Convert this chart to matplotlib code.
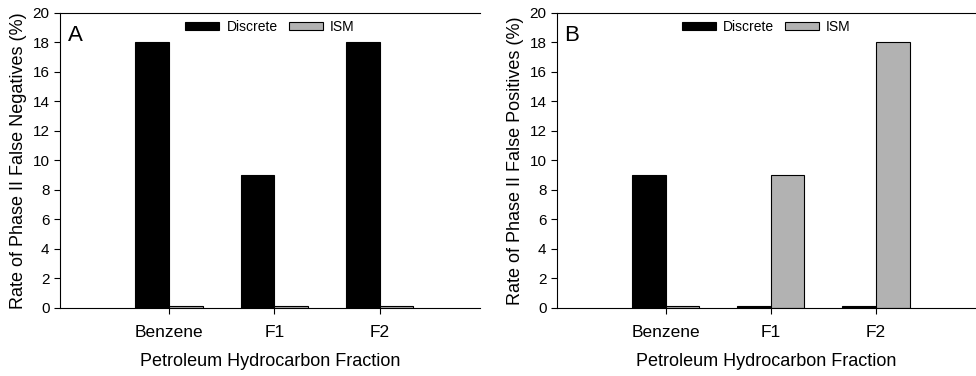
import matplotlib
matplotlib.use("Agg")
import matplotlib.pyplot as plt
import numpy as np

plt.rcParams['font.family'] = ['Liberation Sans', 'DejaVu Sans']

categories = ["Benzene", "F1", "F2"]
neg_discrete = [18, 9, 18]
neg_ism = [0.1, 0.1, 0.1]
pos_discrete = [9, 0.15, 0.15]
pos_ism = [0.1, 9, 18]
series_names = ["Discrete", "ISM"]
panel_letters = ["A", "B"]
ylabels = ["Rate of Phase II False Negatives (%)", "Rate of Phase II False Positives (%)"]
xlabel = "Petroleum Hydrocarbon Fraction"

fig = plt.figure(figsize=(9.76, 3.76), dpi=100)
axes_rects = [[0.0615, 0.181, 0.430, 0.785], [0.5707, 0.181, 0.429, 0.785]]
data = [(neg_discrete, neg_ism), (pos_discrete, pos_ism)]
x = np.arange(1, len(categories) + 1)
w = 0.32
gray = "#b2b2b2"

for i in range(2):
    ax = fig.add_axes(axes_rects[i])
    d, s = data[i]
    ax.bar(x - w/2, d, width=w, color="black", edgecolor="black", linewidth=0.8, label=series_names[0])
    ax.bar(x + w/2, s, width=w, color=gray, edgecolor="black", linewidth=0.8, label=series_names[1])
    ax.set_xlim(-0.033, 3.948)
    ax.set_ylim(0, 20)
    ax.set_yticks(range(0, 21, 2))
    ax.set_xticks(x)
    ax.set_xticklabels(categories, fontsize=12.5)
    ax.tick_params(axis='y', labelsize=11, direction='out', length=4, width=0.8)
    ax.tick_params(axis='x', direction='out', length=4, width=0.8, pad=8)
    ax.spines['right'].set_visible(False)
    for sp in ['left', 'bottom', 'top']:
        ax.spines[sp].set_linewidth(0.8)
    ax.set_ylabel(ylabels[i], fontsize=13, labelpad=4)
    ax.set_xlabel(xlabel, fontsize=13, labelpad=10)
    ax.text(0.018, 0.96, panel_letters[i], transform=ax.transAxes, fontsize=16,
            va='top', ha='left')
    ax.legend(loc='upper center', bbox_to_anchor=(0.5, 1.0), ncol=2, frameon=False,
              fontsize=10, handlelength=2.45, handleheight=0.5, columnspacing=0.8,
              handletextpad=0.5, borderaxespad=0.1)

fig.savefig("out.png", dpi=100)
